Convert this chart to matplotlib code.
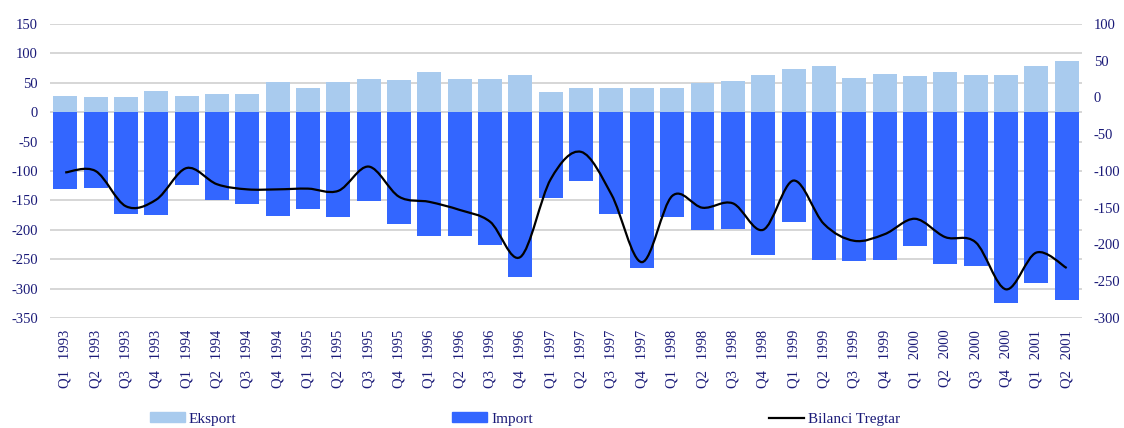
import numpy as np
import matplotlib
matplotlib.use("Agg")
import matplotlib.pyplot as plt
from matplotlib.path import Path
from matplotlib.patches import PathPatch, Patch
from matplotlib.lines import Line2D

quarters = ["Q1", "Q2", "Q3", "Q4"]
years = ["1993", "1994", "1995", "1996", "1997", "1998", "1999", "2000", "2001"]
labels = [q + "   " + y for y in years for q in quarters][:34]

eksport = [28, 26, 25, 36, 28, 31, 31, 51, 41, 51, 57, 55, 68, 57, 57, 63, 35,
           41, 41, 41, 41, 50, 53, 63, 74, 79, 58, 65, 62, 68, 63, 63, 79, 87]
importi = [-130, -129, -173, -175, -124, -149, -156, -176, -165, -178, -151,
           -190, -210, -210, -226, -280, -146, -117, -173, -265, -178, -200,
           -199, -243, -187, -251, -253, -251, -227, -258, -261, -324, -290, -319]
bilanci = [-102, -100, -148, -139, -96, -118, -125, -125, -124, -127, -94,
           -135, -142, -153, -169, -217, -111, -74, -132, -224, -134, -150,
           -144, -180, -113, -172, -195, -186, -165, -190, -197, -261, -211, -232]

navy = "#1a1a78"
light = "#a9cbee"
blue = "#3366ff"
plt.rcParams["font.family"] = ["Liberation Serif", "DejaVu Serif"]
plt.rcParams["font.size"] = 10.5
plt.rcParams["axes.unicode_minus"] = False


def smooth_path(x, y):
    # catmull-rom segments turned into cubic bezier pieces
    px = np.asarray(x, float)
    py = np.asarray(y, float)
    n = len(px)
    verts = [(px[0], py[0])]
    codes = [Path.MOVETO]
    for i in range(n - 1):
        i0 = max(i - 1, 0)
        i3 = min(i + 2, n - 1)
        c1 = (px[i] + (px[i + 1] - px[i0]) / 6, py[i] + (py[i + 1] - py[i0]) / 6)
        c2 = (px[i + 1] - (px[i3] - px[i]) / 6, py[i + 1] - (py[i3] - py[i]) / 6)
        verts += [c1, c2, (px[i + 1], py[i + 1])]
        codes += [Path.CURVE4] * 3
    return Path(verts, codes)


fig = plt.figure(figsize=(11.24, 4.28), dpi=100)
ax = fig.add_axes([0.0445, 0.257, 0.918, 0.687])
x = np.arange(len(labels))

ax.bar(x, eksport, width=0.79, color=light, zorder=2)
ax.bar(x, importi, width=0.79, color=blue, zorder=2)
ax.set_xlim(-0.5, len(labels) - 0.5)
ax.set_ylim(-350, 150)
ax.set_yticks(range(-350, 151, 50))
ax.yaxis.grid(True, color="#cccccc", linewidth=1.1, zorder=0)
ax.set_axisbelow(True)
ax.set_xticks(x)
ax.set_xticklabels(labels, rotation=90)
ax.tick_params(axis="both", length=0, colors=navy, labelsize=10.5)
ax.tick_params(axis="y", pad=8.6)
ax.tick_params(axis="x", pad=8.4)
for s in ax.spines.values():
    s.set_visible(False)

ax2 = ax.twinx()
ax2.set_ylim(-300, 100)
ax2.set_yticks(range(-300, 101, 50))
ax2.tick_params(axis="y", length=0, colors=navy, labelsize=10.5, pad=8.6)
for s in ax2.spines.values():
    s.set_visible(False)
ax2.add_patch(PathPatch(smooth_path(x, bilanci), fill=False,
                        edgecolor="black", linewidth=1.6, zorder=3))

entries = [
    (Patch(color=light), "Eksport", 150),
    (Patch(color=blue), "Import", 452),
    (Line2D([], [], color="black", linewidth=1.6), "Bilanci Tregtar", 769),
]
for handle, text, px in entries:
    leg = fig.legend([handle], [text], loc="center left",
                     bbox_to_anchor=(px / 1124, 1 - 419 / 428),
                     frameon=False, borderpad=0, borderaxespad=0,
                     handlelength=2.3, handleheight=0.6, handletextpad=0.25,
                     fontsize=11)
    for t in leg.get_texts():
        t.set_color(navy)

fig.savefig("out.png", dpi=100)
